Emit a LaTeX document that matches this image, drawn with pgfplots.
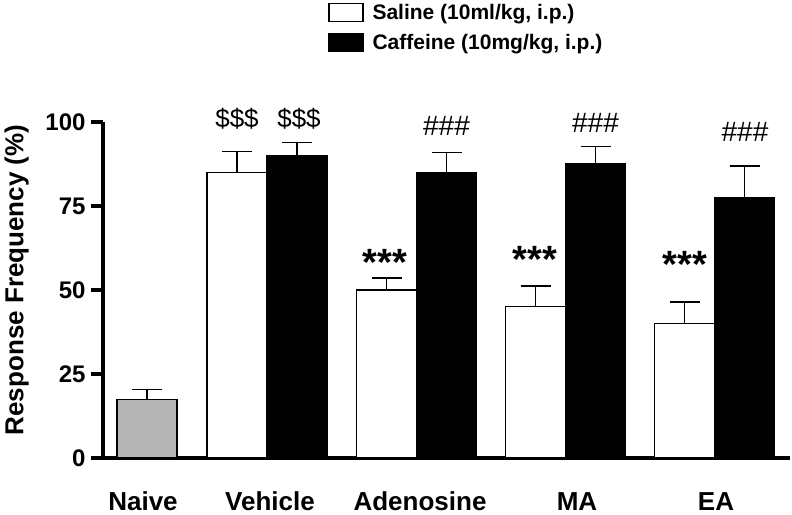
\documentclass[border=0pt]{standalone}
\usepackage{fontspec}
\setmainfont{Liberation Sans}
\usepackage{pgfplots}
\pgfplotsset{compat=1.18}
\definecolor{naivegray}{RGB}{180,180,180}

\pgfplotsset{
    barerr/.style={
        error bars/.cd, y dir=plus, y explicit,
        error bar style={line width=1.2pt, black},
        error mark options={rotate=90, mark size=15pt, line width=1.2pt, black},
    },
}

\begin{document}
\begin{tikzpicture}
\begin{axis}[
    scale only axis,
    width=687pt, height=336pt,
    xmin=103, xmax=790,
    ymin=0, ymax=100,
    axis lines*=left,
    axis line style={line width=3.5pt, -},
    clip=false,
    ybar, bar width=60, bar shift=0pt,
    ytick={0,25,50,75,100},
    xtick={143,270,420,577,716},
    xticklabels={Naive,Vehicle,Adenosine,MA,EA},
    x tick style={draw=none},
    y tick style={line width=3.5pt, black},
    tick align=outside,
    major tick length=12pt,
    /pgf/number format/assume math mode=true,
    yticklabel style={font=\fontsize{24}{28}\selectfont\bfseries, xshift=-2pt},
    xticklabel style={font=\fontsize{26}{30}\selectfont\bfseries, anchor=base, yshift=-40pt},
    ylabel={Response Frequency (\%)},
    every axis y label/.style={at={(axis description cs:-0.1255,0.53)}, rotate=90, anchor=center,
        font=\fontsize{26}{30}\selectfont\bfseries},
    legend style={at={(axis description cs:0.3275,1.357)}, anchor=north west, draw=none,
        font=\fontsize{21}{25}\selectfont\bfseries, row sep=9pt, inner sep=0pt,
        cells={anchor=west}},
    legend image code/.code={\draw[#1, line width=1.5pt] (0pt,-9pt) rectangle (34pt,9pt);
        \path (41pt,0pt);},
]
% Naive
\addplot[fill=naivegray, draw=black, line width=1.2pt, forget plot, barerr]
    coordinates {(147,17.5) +- (0,3)};
% Saline
\addplot[fill=white, draw=black, line width=1.2pt, barerr] coordinates {
    (237,85) +- (0,6.2)
    (386.5,50) +- (0,3.6)
    (535.5,45) +- (0,6.2)
    (684.5,40) +- (0,6.4)
};
% Caffeine
\addplot[fill=black, draw=black, line width=1.2pt, barerr] coordinates {
    (297,90) +- (0,3.8)
    (446.5,85) +- (0,6)
    (595.5,87.5) +- (0,5.1)
    (744.5,77.5) +- (0,9.4)
};
% significance marks
\node[anchor=base, font=\fontsize{26}{30}\selectfont] at (axis cs:237,98.5) {\$\$\$};
\node[anchor=base, font=\fontsize{26}{30}\selectfont] at (axis cs:299,98.5) {\$\$\$};
\node[anchor=base, font=\fontsize{28}{32}\selectfont] at (axis cs:446.5,96.1) {\#\#\#};
\node[anchor=base, font=\fontsize{28}{32}\selectfont] at (axis cs:595.5,97) {\#\#\#};
\node[anchor=base, font=\fontsize{28}{32}\selectfont] at (axis cs:745,94.3) {\#\#\#};
\node[anchor=base, font=\fontsize{38}{42}\selectfont\bfseries] at (axis cs:385,54.2) {***};
\node[anchor=base, font=\fontsize{38}{42}\selectfont\bfseries] at (axis cs:535,55.1) {***};
\node[anchor=base, font=\fontsize{38}{42}\selectfont\bfseries] at (axis cs:685,53.6) {***};
\legend{Saline (10ml/kg{,} i.p.), Caffeine (10mg/kg{,} i.p.)}
\end{axis}
\pgfresetboundingbox
\path (-103pt,-56pt) rectangle (689pt,458pt);
\end{tikzpicture}
\end{document}
